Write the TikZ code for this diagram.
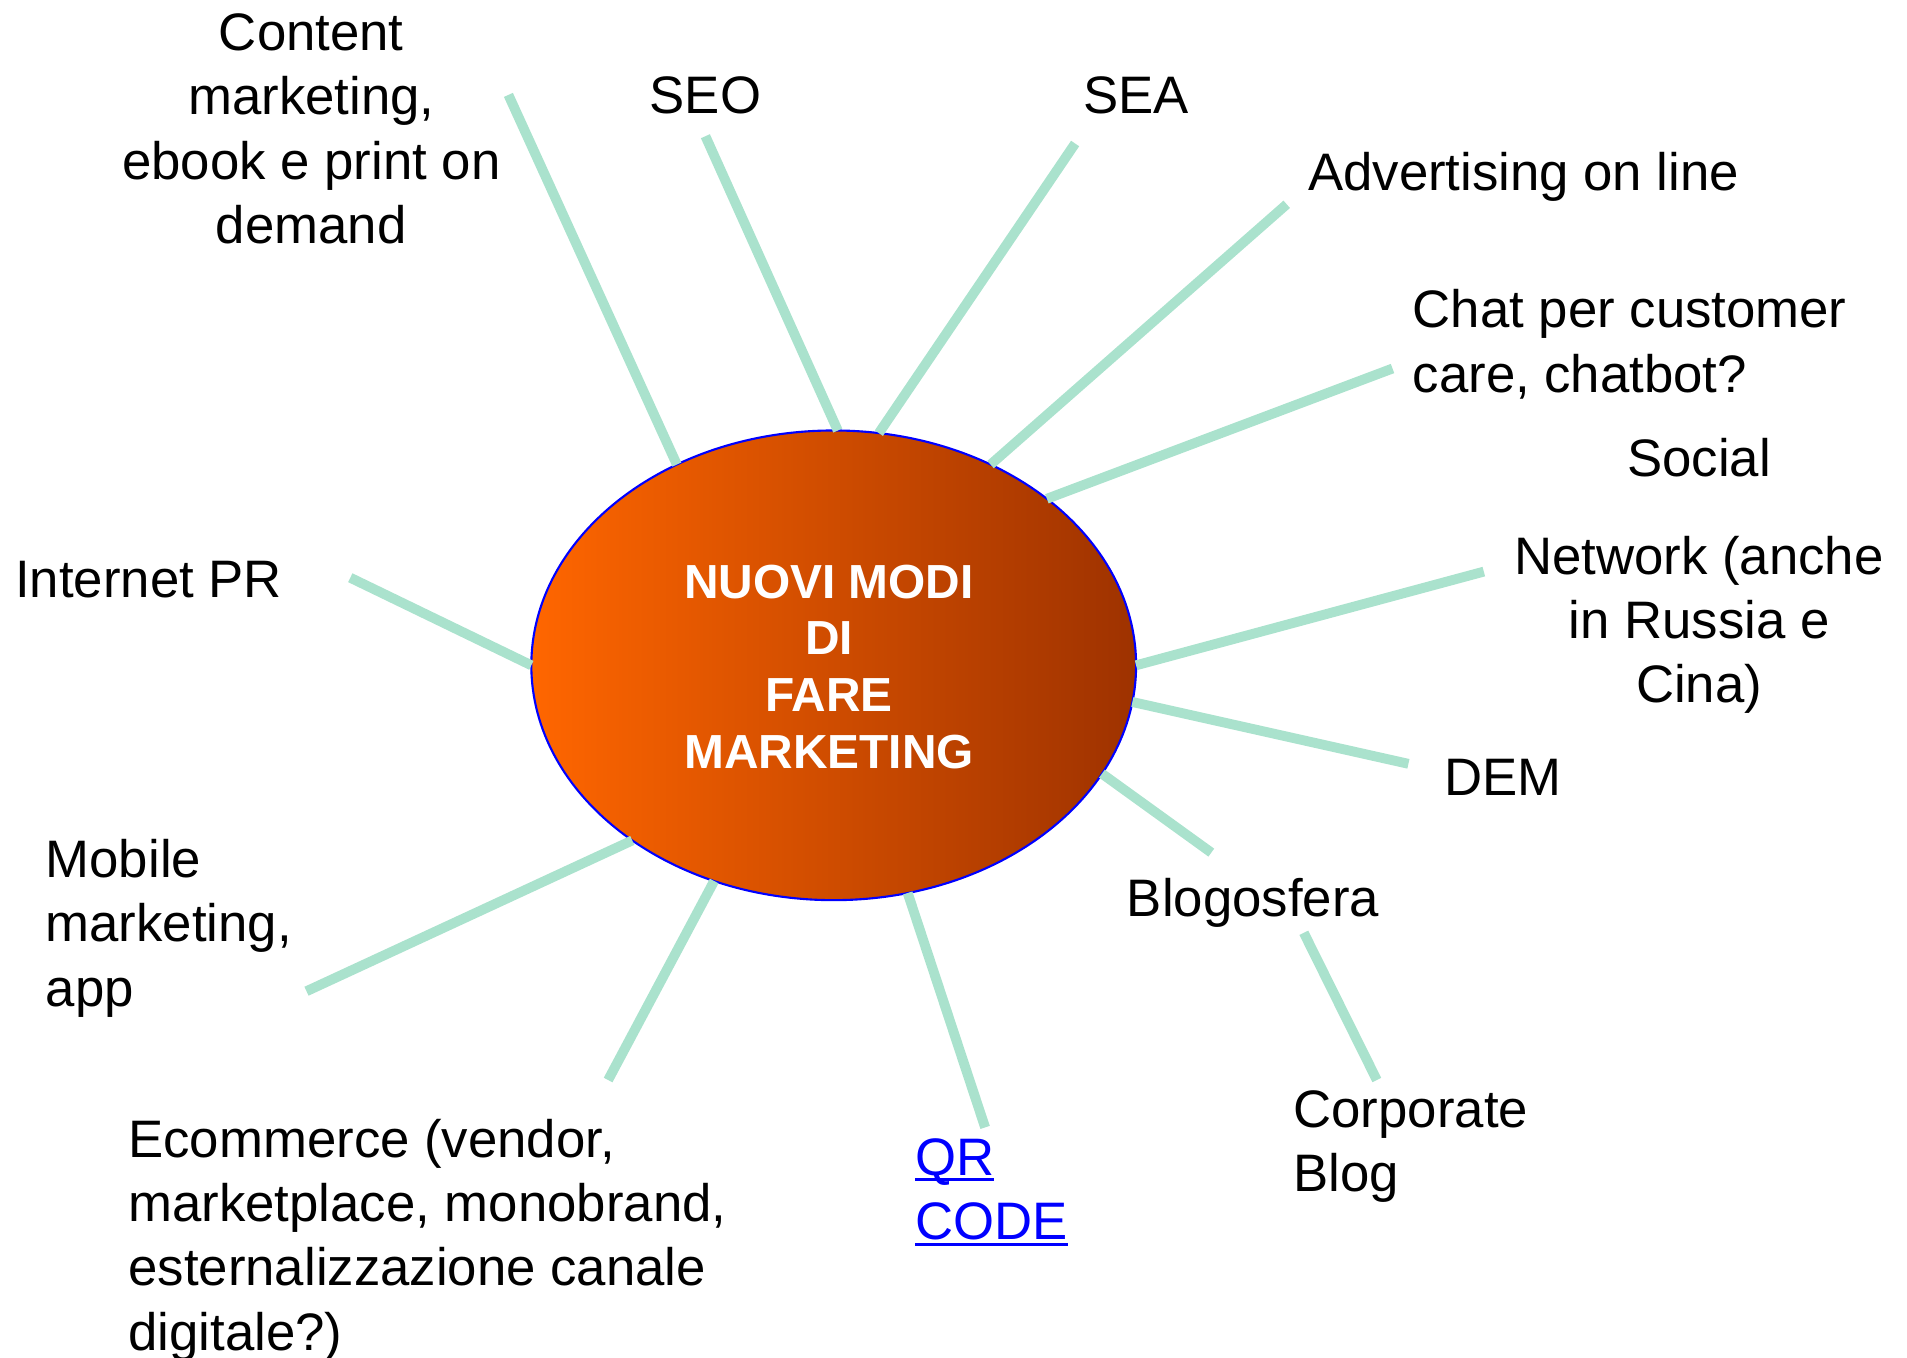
\documentclass[tikz,border=0pt]{standalone}
\usepackage{fontspec}
\setmainfont{Liberation Sans}
\usetikzlibrary{shapes.geometric}

\definecolor{spokegreen}{RGB}{170,226,205}
\definecolor{hubleft}{RGB}{255,102,0}
\definecolor{hubright}{RGB}{158,50,0}
\definecolor{linkblue}{RGB}{0,0,255}

% underlined link text
\newcommand{\linktext}[1]{\setbox0\hbox{#1}\rlap{\rule[-0.11em]{\wd0}{0.055em}}\box0}

\begin{document}
\begin{tikzpicture}[x=0.01cm, y=-0.01cm,
    spoke/.style={line width=2.8pt, draw=spokegreen},
    label text/.style={inner sep=0pt, yshift=-0.05cm, font=\fontsize{15}{18.3}\selectfont},
    hub node/.style={ellipse, draw=blue, line width=0.6pt, inner sep=0pt, outer sep=0pt,
        minimum width=6.044cm, minimum height=4.694cm,
        shading=axis, left color=hubleft, right color=hubright, shading angle=90}]

    \useasboundingbox (0,0) rectangle (1907,1357);

    % Hub
    \node[hub node] (hub) at (833.7,665.3) {};
    \node[text=white, align=center, inner sep=0pt,
        font=\fontsize{13.6}{16.2}\selectfont\bfseries] (title) at (829,667)
        {NUOVI MODI\\DI\\FARE\\MARKETING};

    % Labels
    \node[label text, align=center] (content) at (311.3,124) {Content\\marketing,\\ebook e print on\\demand};
    \node[label text] (seo) at (705.4,90) {SEO};
    \node[label text] (sea) at (1135.9,90) {SEA};
    \node[label text, anchor=west] (adv) at (1307.4,171.5) {Advertising on line};
    \node[label text, anchor=west, align=left] (chat) at (1412,339.3) {Chat per customer\\care, chatbot?};
    \node[label text, align=center] (social) at (1699,571) {Social\\[0.33cm]Network (anche\\in Russia e\\Cina)};
    \node[label text, anchor=west] (pr) at (14.6,575) {Internet PR};
    \node[label text, anchor=west] (dem) at (1443.6,772) {DEM};
    \node[label text, anchor=west] (blogo) at (1126.2,897.6) {Blogosfera};
    \node[label text, anchor=west, align=left] (corp) at (1292.8,1141.4) {Corporate\\Blog};
    \node[label text, anchor=west, align=left, text=linkblue] (qr) at (914.6,1187) {\linktext{QR}\\\linktext{CODE}};
    \node[label text, anchor=west, align=left] (ecom) at (127.7,1235) {Ecommerce (vendor,\\marketplace, monobrand,\\esternalizzazione canale\\digitale?)};
    \node[label text, anchor=west, align=left] (mobile) at (45,923.1) {Mobile\\marketing,\\app};

    % Free ends of the spokes
    \coordinate (content end) at (508.4,94.9);
    \coordinate (seo end) at (705.4,136.2);
    \coordinate (sea end) at (1075.1,143.5);
    \coordinate (adv end) at (1286.7,204.3);
    \coordinate (chat end) at (1392.5,368.5);
    \coordinate (social end) at (1483.8,571.6);
    \coordinate (dem end) at (1408.4,763.8);
    \coordinate (blogo end) at (1211.3,852.6);
    \coordinate (blogo foot) at (1303.8,932.8);
    \coordinate (corp end) at (1376.8,1080);
    \coordinate (qr end) at (985.1,1127.4);
    \coordinate (ecom end) at (608.1,1080);
    \coordinate (mobile end) at (306.5,991.2);
    \coordinate (pr end) at (350.3,577.7);

    % Spokes
    \draw[spoke] (hub.128.5) -- (content end);
    \draw[spoke] (hub.89.5) -- (seo end);
    \draw[spoke] (hub.79.1) -- (sea end);
    \draw[spoke] (hub.52) -- (adv end);
    \draw[spoke] (hub.38.2) -- (chat end);
    \draw[spoke] (hub.0) -- (social end);
    \draw[spoke] (hub.-7.2) -- (dem end);
    \draw[spoke] (hub.-22.7) -- (blogo end);
    \draw[spoke] (blogo foot) -- (corp end);
    \draw[spoke] (hub.-72.2) -- (qr end);
    \draw[spoke] (hub.241.5) -- (ecom end);
    \draw[spoke] (hub.221) -- (mobile end);
    \draw[spoke] (hub.180) -- (pr end);

\end{tikzpicture}
\end{document}
